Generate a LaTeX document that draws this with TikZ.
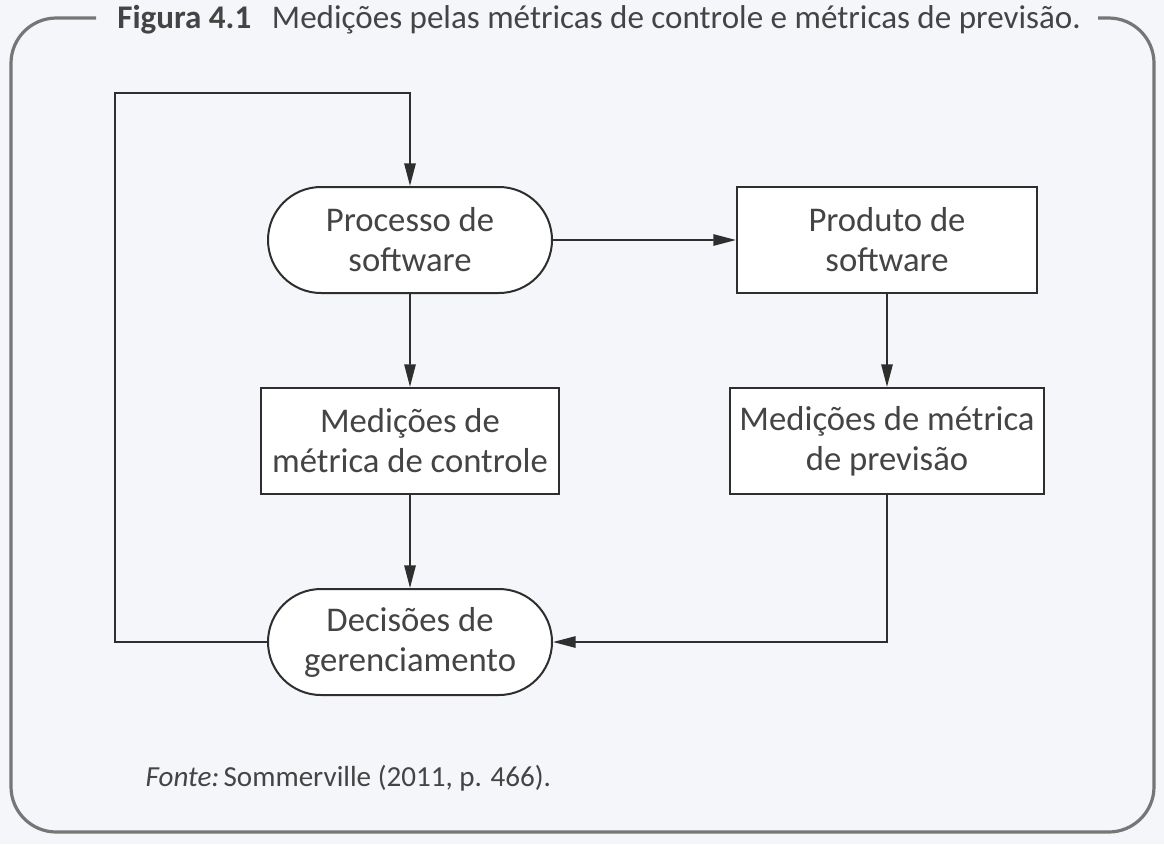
\documentclass[tikz,border=0pt]{standalone}
\usepackage{fontspec}
\setmainfont{Carlito}
\usepackage{tikz}
\usetikzlibrary{shapes.misc,arrows.meta,positioning}
\definecolor{bgcol}{HTML}{F5F6FA}
\definecolor{framecol}{HTML}{767676}
\definecolor{linecol}{HTML}{2E2E2E}
\definecolor{textcol}{HTML}{444444}
\begin{document}
\begin{tikzpicture}[x=0.75pt,y=-0.75pt,
  every node/.style={text=textcol,font=\fontsize{26}{30}\selectfont,align=center},
  stadium/.style={draw=linecol,fill=white,line width=1.5pt,rounded rectangle,minimum width=213pt,minimum height=79.5pt,inner sep=0pt},
  box/.style={draw=linecol,fill=white,line width=1.6pt,rectangle,minimum height=79.5pt,inner sep=0pt},
  arr/.style={draw=linecol,line width=1.4pt,-{Triangle[length=17pt,width=8.5pt]}}]
\fill[bgcol] (0,0) rectangle (1164,844);
\useasboundingbox (0,0) rectangle (1164,844);
\draw[framecol,line width=2.4pt,rounded corners=34pt] (96,18) -- (11,18) -- (11,832) -- (1154,832) -- (1154,18) -- (1098,18);
\node (title) at (599,20) [font=\fontsize{24.8}{28}\selectfont] {\textbf{Figura 4.1}\hspace{0.4em} Medições pelas métricas de controle e métricas de previsão.};

\node (proc) at (410,240) [stadium] {Processo de\\software};
\node (prod) at (887,240) [box,minimum width=225pt] {Produto de\\software};
\node (ctrl) at (410,441) [box,minimum width=223.5pt] {Medições de\\métrica de controle};
\node (prev) at (887,441) [box,minimum width=236pt] {Medições de métrica\\de previsão};
\node (dec) at (410,642) [stadium] {Decisões de\\gerenciamento};
\coordinate (loop) at (115,93);

\draw[arr] (proc) -- (prod);
\draw[arr] (proc) -- (ctrl);
\draw[arr] (prod) -- (prev);
\draw[arr] (ctrl) -- (dec);
\draw[arr] (prev.south) |- (dec.east);
\draw[arr] (dec.west) -| (loop) -| (proc.north);

\node (src) at (141,778) [anchor=west,font=\fontsize{21.8}{26}\selectfont] {\textit{Fonte:}\hspace{0.15em}Sommerville (2011, p. 466).};
\end{tikzpicture}
\end{document}
